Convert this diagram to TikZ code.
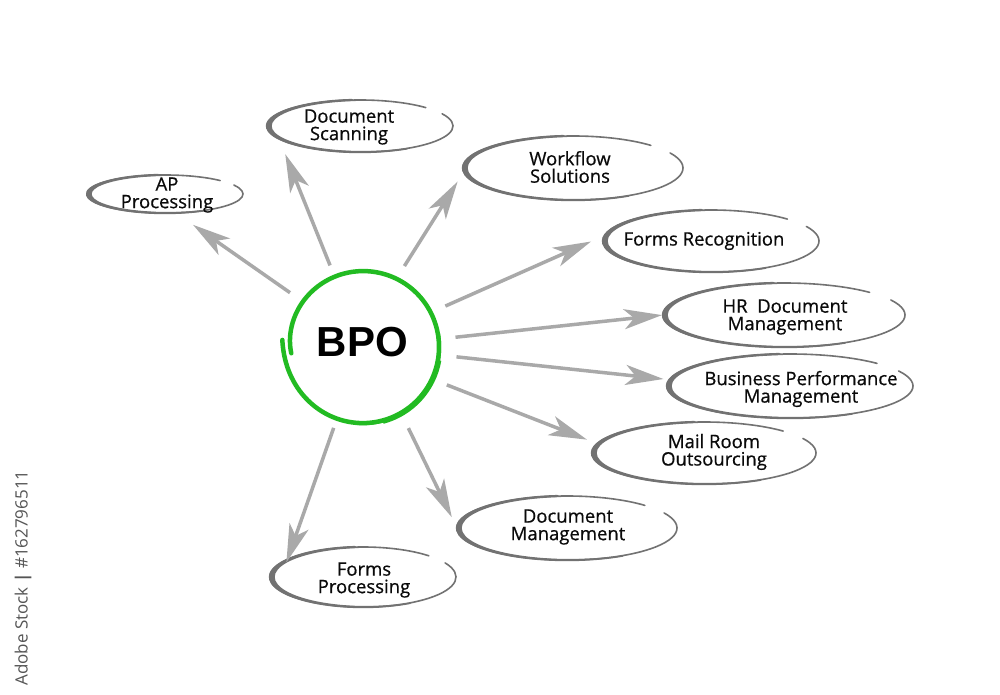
\documentclass[tikz,border=0pt]{standalone}
\usepackage{fontspec}
\setmainfont{Open Sans}
\newfontfamily\lblfont{Open Sans}[BoldFont={Open Sans},BoldFeatures={FakeBold=0.6}]
\newfontfamily\bpofont{Liberation Sans}
\usetikzlibrary{arrows.meta,shapes.geometric,calc}
\definecolor{ringgray}{HTML}{727272}
\definecolor{arrowgray}{HTML}{A9A9A9}
\definecolor{bpogreen}{RGB}{34,187,34}
\definecolor{labelink}{HTML}{0A0A0A}
\definecolor{wmgray}{HTML}{555555}
\tikzset{
  bubbleshape/.style={ellipse, inner sep=0pt, outer sep=0pt},
  ringthin/.style={draw=ringgray, line width=1.6pt, line cap=round},
  lbl/.style={font=\lblfont\bfseries\fontsize{18.5}{17.5}\selectfont, align=center, text=labelink, inner sep=0pt},
  arr/.style={draw=arrowgray, line width=3.5pt, -{Stealth[length=38pt,width=20pt,inset=10pt]}},
  bpocircle/.style={circle, minimum size=150pt, inner sep=0pt, outer sep=0pt},
}
\newcommand{\bubble}[5]{%
 \node[bubbleshape, minimum width={2*#4pt}, minimum height={2*#5pt}] (#1) at (#2,#3) {};
 \pgfmathsetmacro{\bbAx}{#2+#4*cos(45)}\pgfmathsetmacro{\bbAy}{#3+#5*sin(45)}
 \draw[ringthin] (\bbAx,\bbAy) arc[start angle=45,end angle=388,x radius=#4,y radius=#5];
 \pgfmathsetmacro{\bbXo}{#4+1.2}\pgfmathsetmacro{\bbYo}{#5+1.2}
 \pgfmathsetmacro{\bbXi}{#4-1.2}\pgfmathsetmacro{\bbYi}{#5-1}
 \pgfmathsetmacro{\bbSx}{#2+\bbXo*cos(95)}\pgfmathsetmacro{\bbSy}{#3+\bbYo*sin(95)}
 \pgfmathsetmacro{\bbTx}{#2+3.5+\bbXi*cos(300)}\pgfmathsetmacro{\bbTy}{#3+\bbYi*sin(300)}
 \fill[ringgray] (\bbSx,\bbSy) arc[start angle=95,end angle=300,x radius=\bbXo,y radius=\bbYo] -- (\bbTx,\bbTy) arc[start angle=300,end angle=95,x radius=\bbXi,y radius=\bbYi] -- cycle;
}
\begin{document}
\begin{tikzpicture}[x=1pt,y=1pt]
\useasboundingbox[fill=white] (0,0) rectangle (1000,695);

% central BPO circle
\node[bpocircle] (bpo) at (363,348) {};
\draw[bpogreen, line width=4.5pt, line cap=round] plot[domain=175:545, samples=160, smooth]
  ({363+(76+5*exp(-(\x-175)/25)-4*exp(-(545-\x)/25))*cos(\x)},
   {348+(76+5*exp(-(\x-175)/25)-4*exp(-(545-\x)/25))*sin(\x)});
\draw[bpogreen, line width=2.5pt] (363,348) ++(265:77) arc[start angle=265, end angle=370, radius=77];
\draw[bpogreen, line width=3pt] (363,348) ++(285:78) arc[start angle=285, end angle=350, radius=78];
\node[font=\bpofont\bfseries\fontsize{42}{42}\selectfont, inner sep=0pt] (bpotxt) at (362.5,353) {BPO};

% bubbles
\bubble{ap}{165}{501}{78}{19}
\bubble{ds}{360}{569}{93}{26}
\bubble{wf}{573}{527}{110}{32}
\bubble{fr}{711}{454}{108}{31}
\bubble{hr}{784}{380}{121}{32}
\bubble{bp}{790}{309}{123}{32}
\bubble{mr}{704}{242}{112}{31}
\bubble{dm}{567}{167}{110}{32}
\bubble{fp}{363}{118}{93}{30}

% labels
\node[lbl] (tap) at (167,500) {AP\\Processing};
\node[lbl] (tds) at (349,568) {Document\\Scanning};
\node[lbl] (twf) at (570,528) {Workflow\\Solutions};
\node[lbl] (tfr) at (704,454) {Forms Recognition};
\node[lbl] (thr) at (785,378) {HR\ \ Document\\Management};
\node[lbl] (tbp) at (801,306) {Business Performance\\Management};
\node[lbl] (tmr) at (714,243) {Mail Room\\Outsourcing};
\node[lbl] (tdm) at (568,168) {Document\\Management};
\node[lbl] (tfp) at (364,115) {Forms\\Processing};

% arrows
\draw[arr, shorten <=16pt, shorten >=21pt] (bpo.143) -- (ap.-60.9);
\draw[arr, shorten <=13pt, shorten >=16.5pt] (bpo.112) -- (ds.189);
\draw[arr, shorten <=16pt, shorten >=11.6pt] (bpo.64) -- (wf.182.8);
\draw[arr, shorten <=17pt, shorten >=15pt] (bpo.27.1) -- (fr.177.9);
\draw[arr, shorten <=18pt, shorten >=1pt] (bpo.6.1) -- (hr.180);
\draw[arr, shorten <=19pt, shorten >=6pt] (bpo.-6.7) -- (bp.177.4);
\draw[arr, shorten <=17pt, shorten >=11pt] (bpo.-25.2) -- (mr.175.1);
\draw[arr, shorten <=18pt, shorten >=12pt] (bpo.-60.9) -- (dm.180);
\draw[arr, shorten <=11pt, shorten >=-3pt] (bpo.-110.3) -- (fp.167.7);

% stock credit
\node[rotate=90, font=\fontsize{17}{17}\selectfont, text=wmgray, inner sep=0pt] (wm) at (23,117) {Adobe Stock \textbf{|} \#162796511};
\end{tikzpicture}
\end{document}
